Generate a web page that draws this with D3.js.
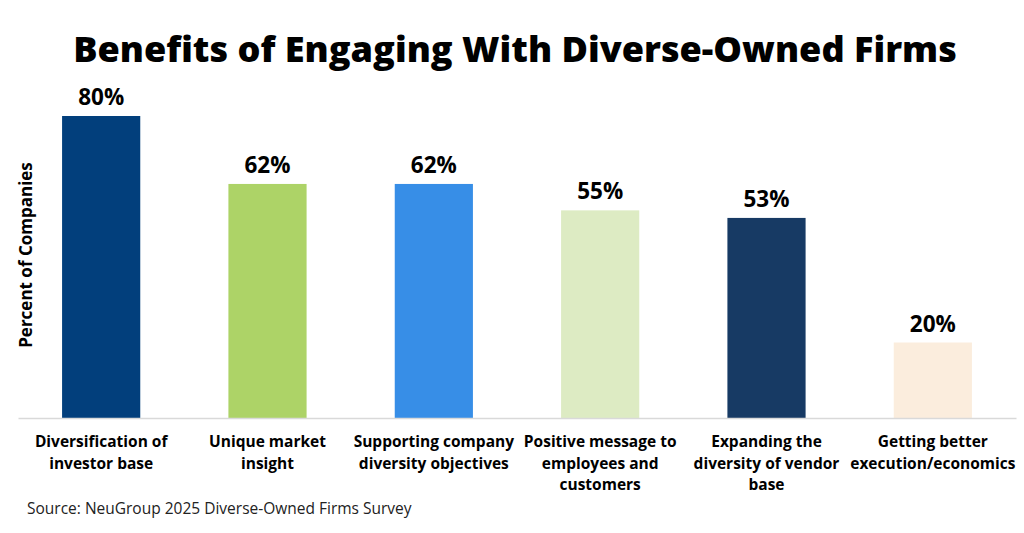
<!DOCTYPE html>
<html lang="en">
  <head>
    <meta charset="utf-8" />
    <script src="https://d3js.org/d3.v7.min.js"></script>
    <style>
      body { margin: 0; background: #fff; }
      text { font-family: "Open Sans", "Noto Sans", sans-serif; }
    </style>
  </head>
  <body>
    <script type="text/javascript">

      // data
      var categories = [
        ["Diversification of", "investor base"],
        ["Unique market", "insight"],
        ["Supporting company", "diversity objectives"],
        ["Positive message to", "employees and", "customers"],
        ["Expanding the", "diversity of vendor", "base"],
        ["Getting better", "execution/economics"]
      ];
      var values = [80, 62, 62, 55, 53, 20];
      var barColors = ["#023F7C", "#ADD367", "#378EE7", "#DDEBC3", "#173A64", "#FBEDDD"];

      // svg sizes
      var w = 1024;
      var h = 533;
      var left = 18;
      var right = 1016;
      var baseY = 418;
      var topY = 116;

      var svg = d3.select("body")
                  .append("svg")
                  .attr("width", w)
                  .attr("height", h);

      // scales
      var xScale = d3.scaleBand()
                     .domain(d3.range(values.length))
                     .range([left, right])
                     .paddingInner(0.53)
                     .paddingOuter(0.265);
      var yScale = d3.scaleLinear()
                     .domain([0, 80])
                     .range([baseY, topY]);

      // title
      svg.append("text")
         .attr("x", 515)
         .attr("y", 62)
         .attr("text-anchor", "middle")
         .style("font-size", "36.1px")
         .style("font-weight", "800")
         .text("Benefits of Engaging With Diverse-Owned Firms");

      // bars
      svg.selectAll("rect.bar")
         .data(values)
         .enter()
         .append("rect")
         .attr("class", "bar")
         .attr("x", function(d, i) { return xScale(i); })
         .attr("y", function(d) { return yScale(d); })
         .attr("width", xScale.bandwidth())
         .attr("height", function(d) { return baseY - yScale(d); })
         .attr("fill", function(d, i) { return barColors[i]; });

      // value labels
      svg.selectAll("text.value")
         .data(values)
         .enter()
         .append("text")
         .attr("class", "value")
         .attr("x", function(d, i) { return xScale(i) + xScale.bandwidth() / 2; })
         .attr("y", function(d) { return yScale(d) - 11; })
         .attr("text-anchor", "middle")
         .style("font-size", "22.5px")
         .style("font-weight", "bold")
         .text(function(d) { return d + "%"; });

      // x axis
      var xAxis = d3.axisBottom(xScale)
                    .tickSize(0)
                    .tickFormat("");
      var axisG = svg.append("g")
                     .attr("transform", "translate(0," + baseY + ")")
                     .call(xAxis);
      axisG.select(".domain")
           .attr("stroke", "#D9D9D9")
           .attr("stroke-width", 1.5);

      // category labels
      axisG.selectAll(".tick")
           .append("text")
           .attr("fill", "#000")
           .attr("text-anchor", "middle")
           .style("font-size", "15.5px")
           .style("font-weight", "bold")
           .each(function(d) {
             var t = d3.select(this);
             categories[d].forEach(function(line, j) {
               t.append("tspan")
                .attr("x", 0)
                .attr("y", 29 + j * 21.5)
                .text(line);
             });
           });

      // y label
      svg.append("text")
         .attr("transform", "rotate(-90)")
         .attr("x", -255)
         .attr("y", 32)
         .attr("text-anchor", "middle")
         .style("font-size", "17px")
         .style("font-weight", "bold")
         .text("Percent of Companies");

      // source
      svg.append("text")
         .attr("x", 27)
         .attr("y", 514)
         .style("font-size", "15.5px")
         .style("fill", "#222")
         .text("Source: NeuGroup 2025 Diverse-Owned Firms Survey");

    </script>
  </body>
</html>
